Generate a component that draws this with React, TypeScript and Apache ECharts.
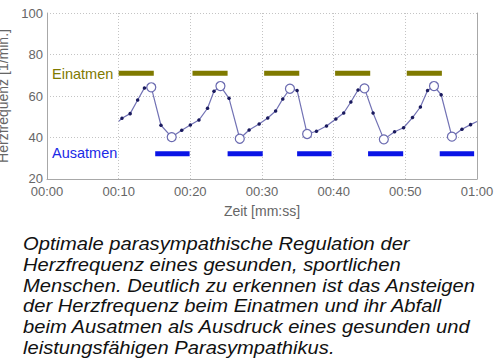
import React, { useEffect, useRef } from "react";
import * as echarts from "echarts";

// Heart rate samples: time [s], value [1/min]
const hrTimes = [10.0, 10.46, 11.6, 12.65, 13.6, 14.55, 15.9, 17.4, 18.8, 20.0, 21.2, 22.4, 23.3, 24.2, 25.4, 26.9, 28.2, 29.6, 30.8, 31.9, 32.9, 33.9, 34.9, 36.3, 37.6, 39.0, 40.3, 41.4, 42.4, 43.4, 44.3, 45.5, 47.0, 48.5, 49.75, 51.0, 52.1, 53.1, 54.0, 55.0, 56.5, 57.9, 59.1, 60.0];
const hrValues = [47.8, 49.3, 51.5, 58.1, 63.9, 64.2, 45.9, 40.2, 43.5, 46.0, 48.4, 54.1, 62.3, 64.8, 58.9, 39.4, 43.6, 46.5, 49.4, 52.8, 58.6, 63.5, 62.7, 41.7, 43.0, 45.5, 48.9, 51.8, 57.1, 62.9, 63.7, 51.8, 39.1, 42.8, 44.7, 49.6, 54.7, 62.6, 64.8, 60.6, 40.4, 44.0, 46.2, 47.7];
// indices of peaks/troughs (open circles)
const extremaIdx = [5, 7, 13, 15, 21, 23, 30, 32, 38, 40];
// indices of clipped boundary samples (no marker)
const boundaryIdx = [0, hrTimes.length - 1];

// Breathing phases [start, end] in seconds
const inhaleStarts = [10.0, 20.3, 30.3, 40.2, 50.2];
const inhaleEnds = [14.9, 25.2, 35.2, 45.1, 55.1];
const inhaleLevel = 71;
const exhaleStarts = [15.1, 25.2, 34.9, 44.8, 54.8];
const exhaleEnds = [19.9, 30.1, 39.7, 49.7, 59.6];
const exhaleLevel = 32.2;

const xTicks = ["00:00", "00:10", "00:20", "00:30", "00:40", "00:50", "01:00"];

const captionLines = [
  "Optimale parasympathische Regulation der",
  "Herzfrequenz eines gesunden, sportlichen",
  "Menschen. Deutlich zu erkennen ist das Ansteigen",
  "der Herzfrequenz beim Einatmen und ihr Abfall",
  "beim Ausatmen als Ausdruck eines gesunden und",
  "leistungsfähigen Parasympathikus.",
];

function phaseData(starts: number[], ends: number[], level: number) {
  const out: any[] = [];
  starts.forEach((s, i) => {
    out.push([s, level], [ends[i], level], "-");
  });
  return out;
}

export default function App() {
  const ref = useRef<HTMLDivElement>(null);
  useEffect(() => {
    if (!ref.current) return;
    const chart = echarts.init(ref.current, null, { renderer: "svg" });
    const lineData = hrTimes.map((t, i) =>
      boundaryIdx.includes(i) || extremaIdx.includes(i)
        ? { value: [t, hrValues[i]], symbol: "none" }
        : [t, hrValues[i]]
    );
    const extremaData = extremaIdx.map((i) => [hrTimes[i], hrValues[i]]);
    const gridColor = "#c4c4c4";
    const labelColor = "#666";
    chart.setOption({
      animation: false,
      backgroundColor: "#fff",
      grid: { left: 47, right: 23, top: 13, bottom: 185, outerBoundsMode: "none", containLabel: false },
      xAxis: {
        type: "value",
        min: 0,
        max: 60,
        interval: 10,
        name: "Zeit [mm:ss]",
        nameLocation: "middle",
        nameGap: 25,
        nameTextStyle: { color: labelColor, fontSize: 14, fontFamily: "Liberation Sans" },
        axisLine: { show: true, lineStyle: { color: "#a8a8a8", width: 1 } },
        axisTick: { show: false },
        axisLabel: {
          color: labelColor,
          fontSize: 13,
          fontFamily: "Liberation Sans",
          margin: 6,
          formatter: (v: number) => xTicks[Math.round(v / 10)],
        },
        splitLine: { show: true, lineStyle: { color: gridColor, type: [1, 2], width: 1 } },
      },
      yAxis: [
        {
          type: "value",
          min: 20,
          max: 100,
          interval: 20,
          name: "Herzfrequenz [1/min.]",
          nameLocation: "middle",
          nameGap: 26,
          nameTextStyle: { color: labelColor, fontSize: 14, fontFamily: "Liberation Sans" },
          axisLine: { show: true, lineStyle: { color: "#a8a8a8", width: 1 } },
          axisTick: { show: false },
          axisLabel: {
            color: labelColor,
            fontSize: 13,
            fontFamily: "Liberation Sans",
            margin: 4,
            formatter: (v: number) => (v === 20 ? "{low|20}" : String(v)),
            rich: {
              low: {
                color: labelColor,
                fontSize: 13,
                fontFamily: "Liberation Sans",
                lineHeight: 10,
                padding: [0, 0, 2, 0],
              },
            },
          },
          splitLine: { show: true, lineStyle: { color: gridColor, type: [1, 2], width: 1 } },
        },
        {
          type: "value",
          min: 20,
          max: 100,
          interval: 20,
          position: "right",
          axisLine: { show: true, lineStyle: { color: "#a8a8a8", width: 1 } },
          axisTick: { show: false },
          axisLabel: { show: false },
          splitLine: { show: false },
        },
      ],
      series: [
        {
          type: "line",
          data: phaseData(inhaleStarts, inhaleEnds, inhaleLevel),
          symbol: "none",
          lineStyle: { color: "#7f7a00", width: 5, cap: "butt" },
          silent: true,
        },
        {
          type: "line",
          data: phaseData(exhaleStarts, exhaleEnds, exhaleLevel),
          symbol: "none",
          lineStyle: { color: "#0a14e6", width: 5, cap: "butt" },
          silent: true,
        },
        {
          type: "line",
          data: lineData,
          symbol: "circle",
          symbolSize: 3.5,
          showSymbol: true,
          showAllSymbol: true,
          itemStyle: { color: "#1a1a5e" },
          lineStyle: { color: "#7272b4", width: 1.2 },
        },
        {
          type: "scatter",
          data: extremaData,
          symbol: "circle",
          symbolSize: 9,
          itemStyle: { color: "#fff", borderColor: "#6a6ab0", borderWidth: 1.2, opacity: 1 },
          z: 5,
        },
      ],
      graphic: [
        {
          type: "text",
          x: 52,
          y: 74,
          style: {
            text: "Einatmen",
            fill: "#7f7a00",
            fontSize: 14.5,
            fontFamily: "Liberation Sans",
            verticalAlign: "middle",
          },
        },
        {
          type: "text",
          x: 52,
          y: 153,
          style: {
            text: "Ausatmen",
            fill: "#1a2ae6",
            fontSize: 14.5,
            fontFamily: "Liberation Sans",
            verticalAlign: "middle",
          },
        },
        {
          type: "text",
          x: 23,
          y: 233,
          scaleX: 1.09,
          style: {
            text: captionLines.join("\n"),
            fill: "#111",
            fontSize: 18.5,
            fontStyle: "italic",
            fontFamily: "Liberation Sans",
            lineHeight: 20.8,
            verticalAlign: "top",
          },
        },
      ],
    });
    return () => chart.dispose();
  }, []);
  return (
    <div
      ref={ref}
      style={{ position: "fixed", left: 0, top: 0, width: 500, height: 364, background: "#fff" }}
    />
  );
}
